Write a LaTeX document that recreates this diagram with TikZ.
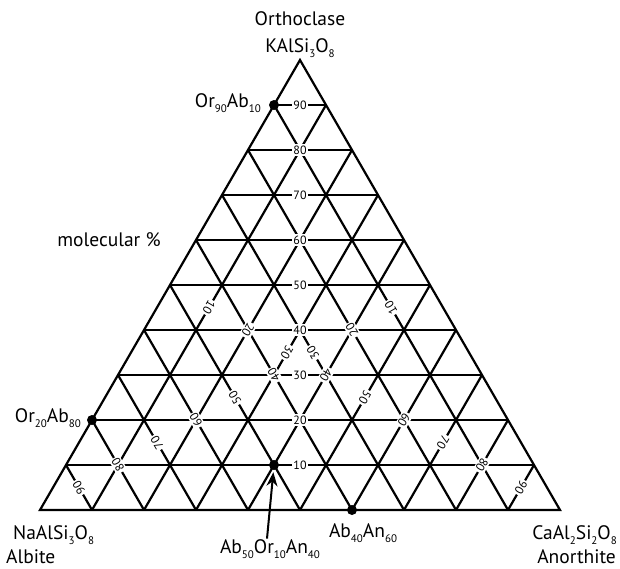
\documentclass[tikz,border=0pt]{standalone}
\usepackage{fontspec}
\setmainfont{PT Sans}
\usepackage{tikz}
\usetikzlibrary{calc,arrows.meta}
\newcommand{\sbs}[1]{\raisebox{-0.45ex}{\fontsize{11}{11}\selectfont #1}}
\tikzstyle{dot}=[circle, fill, inner sep=0pt, minimum size=10pt]
\tikzstyle{grid}=[line width=2.2pt]
\tikzstyle{tick}=[fill=white, inner sep=1.5pt, font=\fontsize{12}{12}\selectfont]
\tikzstyle{lbl}=[inner sep=1pt, font=\fontsize{19.5}{21}\selectfont]

\begin{document}
\begin{tikzpicture}[x=1pt,y=-1pt]
	\useasboundingbox (0,0) rectangle (620,568);
	\coordinate (ab) at (40,510);
	\coordinate (an) at (560,510);
	\coordinate (or) at (300,60);
	\coordinate (mor) at ($(ab)!0.5!(an)$);
	\coordinate (mab) at ($(or)!0.5!(an)$);
	\coordinate (man) at ($(or)!0.5!(ab)$);
	\foreach \i in {1,...,9}{
		\draw[grid] ($(ab)!\i/10!(or)$) -- ($(an)!\i/10!(or)$);
		\draw[grid] ($(or)!\i/10!(ab)$) -- ($(an)!\i/10!(ab)$);
		\draw[grid] ($(or)!\i/10!(an)$) -- ($(ab)!\i/10!(an)$);
	}
	\draw[grid, line join=miter] (ab) -- (an) -- (or) -- cycle;
	\foreach \i in {1,...,9}{
		\node[tick] (o\i) at ($(mor)!\i/10!(or)$) {\i0};
		\node[tick, rotate=120] (b\i) at ($(mab)!\i/10!(ab)$) {\i0};
		\node[tick, rotate=-120] (n\i) at ($(man)!\i/10!(an)$) {\i0};
	}
	\node[dot] (p90) at ($(ab)!0.9!(or)$) {};
	\node[dot] (p20) at ($(ab)!0.2!(or)$) {};
	\node[dot] (p40) at ($(ab)!0.6!(an)$) {};
	\node[dot] (p50) at ($0.5*(ab)+0.1*(or)+0.4*(an)$) {};
	\node[lbl] (orth) at (300,19) {Orthoclase};
	\node[lbl] (orf) at (300,48) {KAlSi\sbs{3}O\sbs{8}};
	\node[lbl] (mol) at (109,240) {molecular \%};
	\node[lbl, anchor=east] (t90) at (262,103) {Or\sbs{90}Ab\sbs{10}};
	\node[lbl, anchor=east] (t20) at (82,418) {Or\sbs{20}Ab\sbs{80}};
	\node[lbl] (t40) at (363,533) {Ab\sbs{40}An\sbs{60}};
	\node[lbl] (t50) at (270,549) {Ab\sbs{50}Or\sbs{10}An\sbs{40}};
	\node[lbl, anchor=west] (abf) at (12,535) {NaAlSi\sbs{3}O\sbs{8}};
	\node[lbl, anchor=west] (abn) at (5,557) {Albite};
	\node[lbl, anchor=east] (anf) at (618,535) {CaAl\sbs{2}Si\sbs{2}O\sbs{8}};
	\node[lbl, anchor=east] (ann) at (617,557) {Anorthite};
	\draw[line width=2pt, -{Stealth[length=14pt,width=11pt]}, shorten >=2pt] ([xshift=-3pt]t50.north) -- (p50);
\end{tikzpicture}
\end{document}
